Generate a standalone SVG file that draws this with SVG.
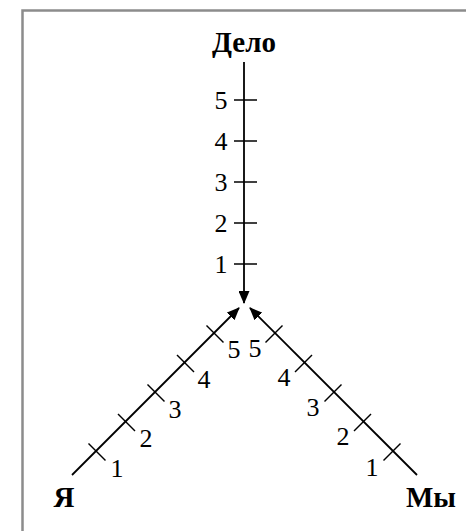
<svg xmlns="http://www.w3.org/2000/svg" width="466" height="531" viewBox="0 0 466 531">
<style>
.ax{stroke:#000;stroke-width:1.8;fill:none}
.tk{stroke:#000;stroke-width:1.5;fill:none}
.num{font-family:"Liberation Serif","Times New Roman",serif;font-size:26px;fill:#000;text-anchor:middle}
.lbl{font-family:"Liberation Serif","Times New Roman",serif;font-size:29px;font-weight:bold;fill:#000}
.frame{stroke:#8c8c8c;stroke-width:2.5;fill:none}
</style>
<defs>
<marker id="ah" markerWidth="13" markerHeight="11" refX="12" refY="5.5" orient="auto" markerUnits="userSpaceOnUse">
<path d="M0,0 L13,5.5 L0,11 Z" fill="#000"/>
</marker>
</defs>
<rect width="466" height="531" fill="#fff"/>
<path class="frame" d="M22.5,531 V10.5 H466"/>
<g id="connectors">
<line class="ax" x1="244" y1="62" x2="244" y2="303" marker-end="url(#ah)"/>
<line class="ax" x1="72" y1="475" x2="239" y2="308" marker-end="url(#ah)"/>
<line class="ax" x1="417" y1="475" x2="250" y2="308" marker-end="url(#ah)"/>
</g>
<g id="node-delo">
<text class="lbl" x="244" y="52" text-anchor="middle">Дело</text>
<line class="tk" x1="234" y1="100" x2="257" y2="100"/>
<line class="tk" x1="234" y1="141" x2="257" y2="141"/>
<line class="tk" x1="234" y1="182" x2="257" y2="182"/>
<line class="tk" x1="234" y1="223" x2="257" y2="223"/>
<line class="tk" x1="234" y1="264" x2="257" y2="264"/>
<text class="num" x="221" y="109">5</text>
<text class="num" x="221" y="150">4</text>
<text class="num" x="221" y="191">3</text>
<text class="num" x="221" y="232">2</text>
<text class="num" x="221" y="273">1</text>
</g>
<g id="node-ya">
<text class="lbl" x="64" y="507" text-anchor="middle">Я</text>
<line class="tk" x1="88.5" y1="443.5" x2="105.5" y2="460.5"/>
<line class="tk" x1="118" y1="414" x2="135" y2="431"/>
<line class="tk" x1="147.5" y1="384.5" x2="164.5" y2="401.5"/>
<line class="tk" x1="177" y1="355" x2="194" y2="372"/>
<line class="tk" x1="206.5" y1="325.5" x2="223.5" y2="342.5"/>
<text class="num" x="117" y="477">1</text>
<text class="num" x="146" y="447">2</text>
<text class="num" x="175" y="418">3</text>
<text class="num" x="204" y="388">4</text>
<text class="num" x="234" y="358">5</text>
</g>
<g id="node-my">
<text class="lbl" x="431" y="507" text-anchor="middle">Мы</text>
<line class="tk" x1="400.5" y1="443.5" x2="383.5" y2="460.5"/>
<line class="tk" x1="371" y1="414" x2="354" y2="431"/>
<line class="tk" x1="341.5" y1="384.5" x2="324.5" y2="401.5"/>
<line class="tk" x1="312" y1="355" x2="295" y2="372"/>
<line class="tk" x1="282.5" y1="325.5" x2="265.5" y2="342.5"/>
<text class="num" x="372" y="476">1</text>
<text class="num" x="343" y="445">2</text>
<text class="num" x="313" y="416">3</text>
<text class="num" x="284" y="386">4</text>
<text class="num" x="255" y="357">5</text>
</g>
</svg>
